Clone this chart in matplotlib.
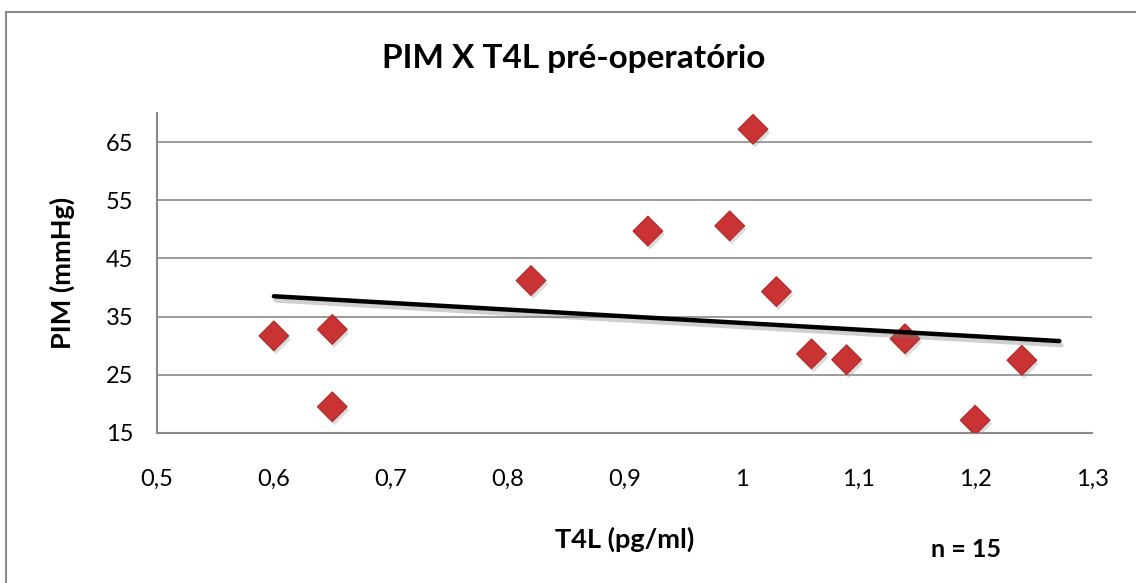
import matplotlib
matplotlib.use("Agg")
import matplotlib.pyplot as plt
import matplotlib.patheffects as pe
from matplotlib.patches import Rectangle
from matplotlib.ticker import FuncFormatter

# T4L (pg/ml) x PIM (mmHg), pre-op
t4l = [0.60, 0.65, 0.65, 0.82, 0.92, 0.99, 1.01, 1.03, 1.06, 1.09, 1.14, 1.20, 1.24]
pim = [31.7, 32.8, 19.5, 41.2, 49.7, 50.6, 67.2, 39.3, 28.6, 27.6, 31.2, 17.2, 27.5]

# linear trend line end points
trend_x = [0.60, 1.272]
trend_y = [38.5, 30.8]

x_ticks = [0.5, 0.6, 0.7, 0.8, 0.9, 1.0, 1.1, 1.2, 1.3]
y_ticks = [15, 25, 35, 45, 55, 65]

plt.rcParams['font.family'] = ['Lato', 'DejaVu Sans']

fig = plt.figure(figsize=(11.36, 5.83), dpi=100)
ax = fig.add_axes([0.1382, 0.2573, 0.8231, 0.5489])

# outer chart frame
fig.patches.append(Rectangle((6 / 1136, -0.05), 1.2, 1 - 12 / 583 + 0.05,
                             transform=fig.transFigure, fill=False,
                             edgecolor='#8a8a8a', linewidth=1.5))

ax.set_xlim(0.5, 1.3)
ax.set_ylim(15, 70)
ax.set_xticks(x_ticks)
ax.set_yticks(y_ticks)
ax.xaxis.set_major_formatter(FuncFormatter(lambda v, p: f'{v:g}'.replace('.', ',')))
ax.tick_params(length=0, labelsize=17, colors='black')
ax.tick_params(axis='y', pad=17)
ax.tick_params(axis='x', pad=26)

ax.grid(axis='y', color='#8a8a8a', linewidth=1.2)
ax.set_axisbelow(True)
for side in ['top', 'right']:
    ax.spines[side].set_visible(False)
for side in ['left', 'bottom']:
    ax.spines[side].set_color('#8a8a8a')
    ax.spines[side].set_linewidth(1.5)

ax.scatter(t4l, pim, marker='D', s=230, color='#c93333', edgecolors='#b02a2a',
           linewidths=0.8, zorder=3,
           path_effects=[pe.SimplePatchShadow(offset=(1.5, -2.5), shadow_rgbFace='#999999', alpha=0.35),
                         pe.Normal()])

ax.plot(trend_x, trend_y, color='black', linewidth=3.2, solid_capstyle='round', zorder=4,
        path_effects=[pe.SimpleLineShadow(offset=(1.5, -3), shadow_color='#777777', alpha=0.35),
                      pe.Normal()])

fig.text(0.505, 0.9, 'PIM X T4L pré-operatório', ha='center', va='center',
         fontsize=24, fontweight='bold')
ax.set_xlabel('T4L (pg/ml)', fontsize=19.5, fontweight='bold', labelpad=26)
ax.set_ylabel('PIM (mmHg)', fontsize=19.5, fontweight='bold', labelpad=22)
fig.text(0.85, 0.057, 'n = 15', ha='center', va='center', fontsize=18, fontweight='bold')

fig.savefig('out.png', dpi=100)
